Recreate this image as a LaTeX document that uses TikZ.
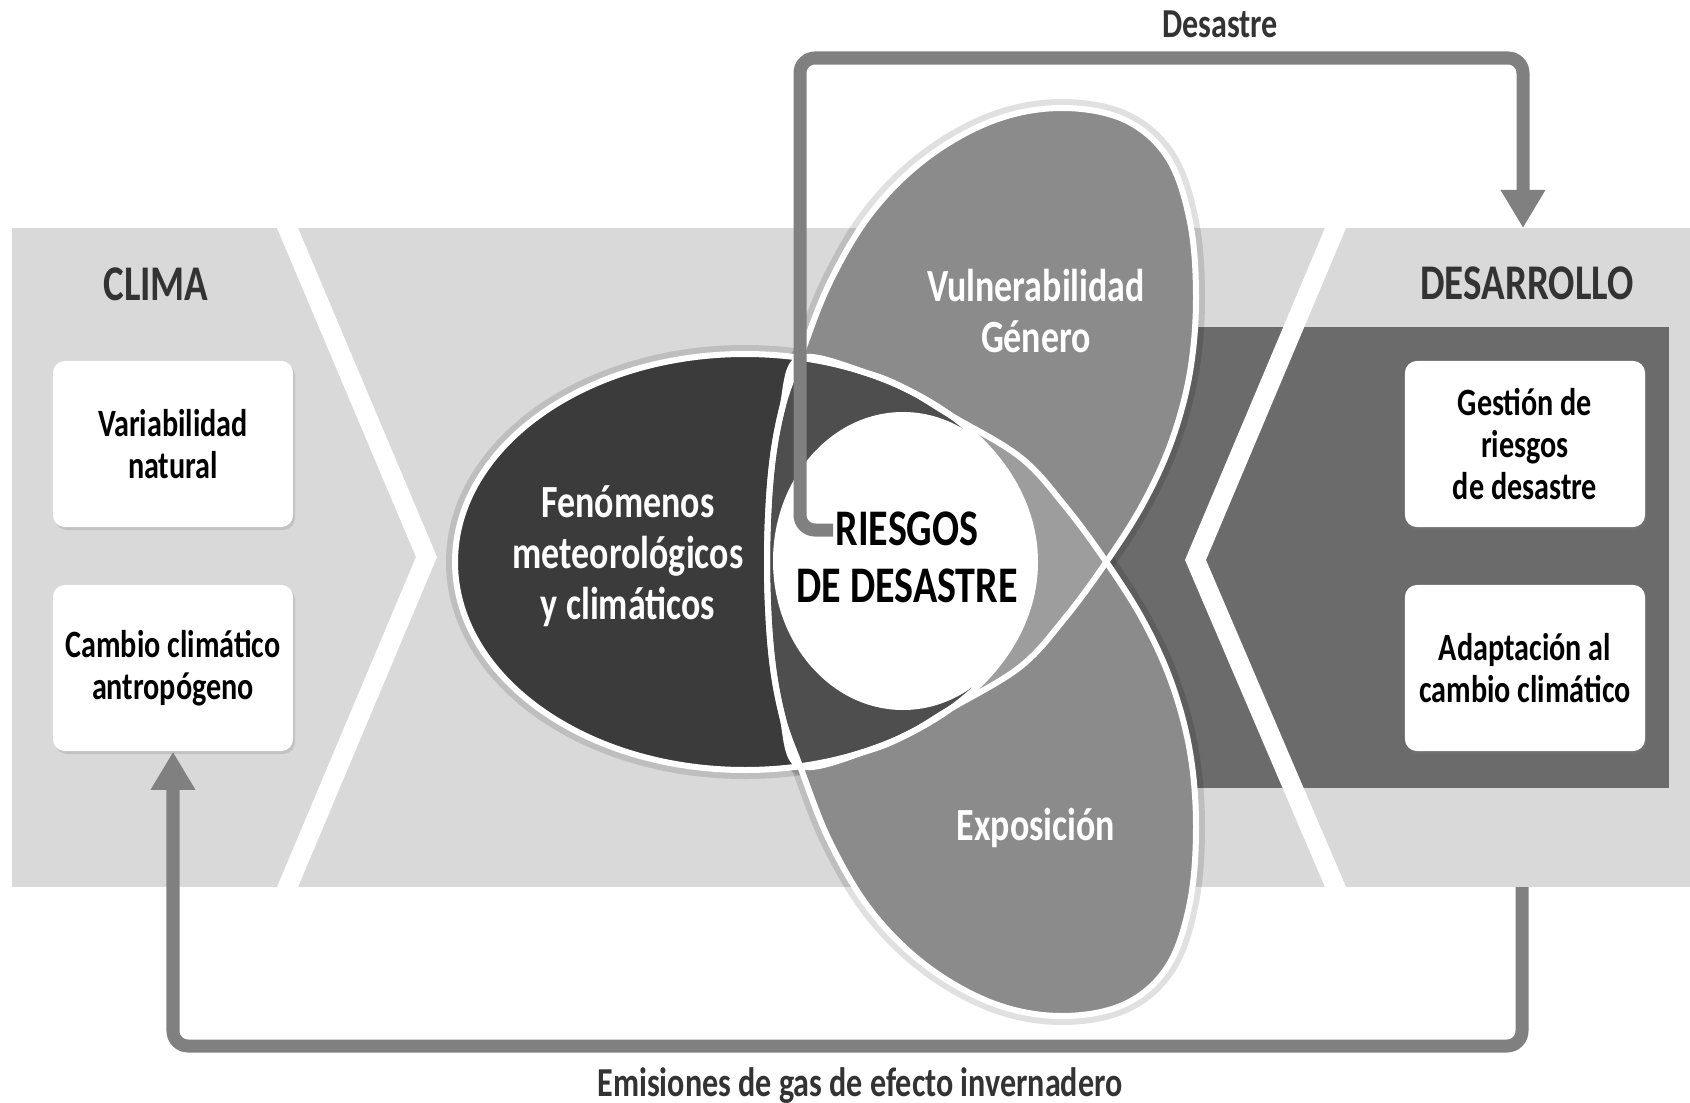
\documentclass[tikz,border=0pt]{standalone}
\usepackage{fontspec}
\setmainfont{Carlito}[FakeStretch=0.78]
\usetikzlibrary{arrows.meta,shadows}

\definecolor{bandgray}{HTML}{D9D9D9}
\definecolor{devgray}{HTML}{6B6B6B}
\definecolor{hazgray}{HTML}{3B3B3B}
\definecolor{petalgray}{HTML}{8B8B8B}
\definecolor{mixdark}{HTML}{4E4E4E}
\definecolor{mixlight}{HTML}{9D9D9D}
\definecolor{flowgray}{HTML}{808080}
\definecolor{headgray}{HTML}{333333}

\def\hazpetal{(745,562) ellipse [x radius=290, y radius=208]}
\def\vulnpetal{plot[smooth cycle, tension=0.6] coordinates {(800,766) (782,715) (771,650) (767,562) (771,474) (782,409) (800,358) (830,282) (872,212) (928,157) (995,120) (1062,108) (1125,120) (1168,158) (1190,222) (1196,298) (1190,372) (1172,440) (1144,502) (1107,561) (1065,618) (1020,667) (950,709) (910,733) (870,750)}}
\def\exppetal{plot[smooth cycle, tension=0.6] coordinates {(800,358) (782,409) (771,474) (767,562) (771,650) (782,715) (800,766) (830,842) (872,912) (928,967) (995,1004) (1062,1016) (1125,1004) (1168,966) (1190,902) (1196,826) (1190,752) (1172,684) (1144,622) (1107,563) (1065,506) (1020,457) (950,415) (910,391) (870,374)}}

\tikzset{
  infobox/.style={fill=white, rounded corners=0.12cm, minimum width=2.4cm, minimum height=1.66cm, align=center, font=\bfseries\fontsize{11}{12}\selectfont, drop shadow={opacity=0.25, shadow xshift=0.02cm, shadow yshift=-0.03cm}},
  header/.style={font=\bfseries\fontsize{14.2}{16}\selectfont, text=headgray},
  petaltext/.style={font=\bfseries\fontsize{13.1}{14.5}\selectfont, text=white, align=center},
  flowlabel/.style={font=\bfseries\fontsize{11.7}{13}\selectfont, text=headgray},
  risktext/.style={align=center, inner sep=0pt, font=\bfseries\fontsize{14.6}{16.2}\selectfont},
  flow/.style={draw=flowgray, line width=0.13cm, rounded corners=0.15cm},
  outline/.style={draw=white, line width=0.06cm},
  glow/.style={draw=black, opacity=0.12, line width=0.18cm}
}

\begin{document}
\begin{tikzpicture}[x=0.01cm, y=-0.01cm]
	\useasboundingbox (0,0) rectangle (1690,1103);
	\fill[bandgray] (12,228) rectangle (1690,887);
	\fill[devgray] (1000,327) rectangle (1669,788);
	\fill[white] (277,228) -- (298,228) -- (437,557) -- (298,887) -- (277,887) -- (416,557) -- cycle;
	\fill[white] (1325,228) -- (1346,228) -- (1206,560) -- (1346,887) -- (1325,887) -- (1185,560) -- cycle;

	\node[header] (clima) at (156,284) {CLIMA};
	\node[header] (desarrollo) at (1527,283) {DESARROLLO};
	\node[infobox] (variab) at (173,444) {Variabilidad\\natural};
	\node[infobox] (cambio) at (173,668) {Cambio climático\\antropógeno};
	\node[infobox] (gestion) at (1525,444) {Gestión de\\riesgos\\de desastre};
	\node[infobox] (adapt) at (1525,668) {Adaptación al\\cambio climático};

	\draw[glow] \vulnpetal;
	\draw[glow] \exppetal;
	\draw[glow] \hazpetal;
	\fill[petalgray] \vulnpetal;
	\fill[petalgray] \exppetal;
	\fill[hazgray] \hazpetal;
	\begin{scope}
		\clip \vulnpetal;
		\fill[mixlight] \exppetal;
	\end{scope}
	\begin{scope}
		\clip \hazpetal;
		\fill[mixdark] \vulnpetal;
		\fill[mixdark] \exppetal;
	\end{scope}
	\draw[outline] \vulnpetal;
	\draw[outline] \exppetal;
	\draw[outline] \hazpetal;
	\fill[white] (903,561) ellipse [x radius=130, y radius=149];

	\node[risktext] (riesgo) at (907,557) {RIESGOS\\DE DESASTRE};
	\node[petaltext] (fenom) at (628,556) {Fenómenos\\meteorológicos\\y climáticos};
	\node[petaltext] (vuln) at (1036,311) {Vulnerabilidad\\Género};
	\node[petaltext] (expo) at (1036,828) {Exposición};

	\coordinate (rdStart) at (833,530);
	\coordinate (desLeft) at (800,58);
	\coordinate (desTip) at (1523,228);
	\draw[flow, -{Triangle[length=0.38cm, width=0.42cm]}] (rdStart) -| (desLeft) -| (desTip);
	\node[flowlabel] (desastre) at (1220,24) {Desastre};

	\coordinate (emStart) at (1522,887);
	\coordinate (emLow) at (860,1046);
	\draw[flow, -{Triangle[length=0.38cm, width=0.42cm]}] (emStart) |- (emLow) -| (cambio.south);
	\node[flowlabel] (emisiones) at (860,1086) {Emisiones de gas de efecto invernadero};
\end{tikzpicture}
\end{document}
